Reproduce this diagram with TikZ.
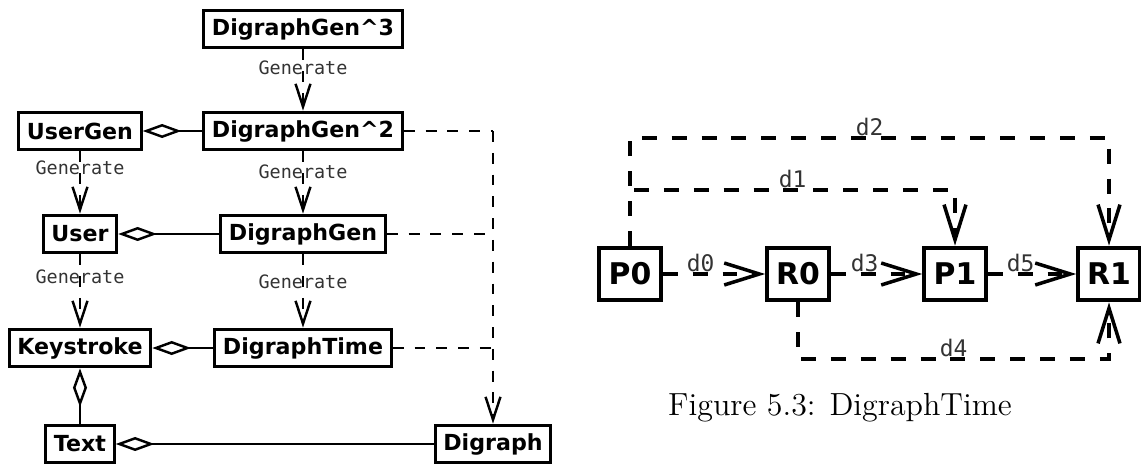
\documentclass[tikz,border=0pt]{standalone}
\usepackage{fontspec}
\setsansfont{DejaVu Sans}
\setmonofont{DejaVu Sans Mono}
\newfontfamily\capfont{lmroman12-regular.otf}
\usetikzlibrary{arrows.meta,positioning,calc}

\begin{document}
\begin{tikzpicture}[x=0.02cm,y=-0.02cm,
  cls/.style={draw,line width=1.7pt,font=\sffamily\bfseries\fontsize{12.6}{14}\selectfont,inner xsep=4.7pt,minimum height=21.5pt},
  st/.style={draw,line width=2.3pt,font=\sffamily\bfseries\fontsize{17}{19}\selectfont,minimum width=35pt,minimum height=30pt,inner sep=2pt},
  gen/.style={dash pattern=on 6.2pt off 6.2pt,line width=1.4pt,-{Straight Barb[length=13pt,width=8.5pt]}},
  agg/.style={line width=1.4pt,{Diamond[open,length=22pt,width=8pt]}-},
  dep/.style={dash pattern=on 6.2pt off 6.2pt,line width=1.4pt},
  dd/.style={dash pattern=on 8.5pt off 8.5pt,line width=2pt,-{Straight Barb[length=20pt,width=12.5pt]}},
  glab/.style={font=\ttfamily\fontsize{10.5}{12}\selectfont,text=black!80,inner sep=0pt},
  dlab/.style={font=\ttfamily\fontsize{13}{15}\selectfont,text=black!80,above=0.5pt,inner sep=0pt}]
\useasboundingbox (0,0) rectangle (1141,466);
% class diagram
\node[cls] (G3) at (303,29) {DigraphGen\textasciicircum 3};
\node[cls] (G2) at (303,131) {DigraphGen\textasciicircum 2};
\node[cls] (UserGen) at (80,131) {UserGen};
\node[cls] (User) at (80,234) {User};
\node[cls] (DG) at (303,234) {DigraphGen};
\node[cls] (Key) at (80,348) {Keystroke};
\node[cls] (DT) at (303,348) {DigraphTime};
\node[cls] (Text) at (80,444) {Text};
\node[cls] (Digraph) at (493,444) {Digraph};
\draw[gen] (G3) -- node[glab,pos=0.3] {Generate} (G2);
\draw[gen] (G2) -- node[glab,pos=0.33] {Generate} (DG);
\draw[gen] (DG) -- node[glab,pos=0.37] {Generate} (DT);
\draw[gen] (UserGen) -- node[glab,pos=0.27] {Generate} (User);
\draw[gen] (User) -- node[glab,pos=0.3] {Generate} (Key);
\draw[agg] (UserGen) -- (G2);
\draw[agg] (User) -- (DG);
\draw[agg] (Key) -- (DT);
\draw[agg] (Key) -- (Text);
\draw[agg] (Text) -- (Digraph);
\draw[dep] (G2.east) -- (G2.east -| Digraph.north);
\draw[dep] (DG.east) -- (DG.east -| Digraph.north);
\draw[dep] (DT.east) -- (DT.east -| Digraph.north);
\draw[gen] (G2.east -| Digraph.north) -- (Digraph.north);
% digraph timing
\node[st] (P0) at (630,274) {P0};
\node[st] (R0) at (798,274) {R0};
\node[st] (P1) at (955,274) {P1};
\node[st] (R1) at (1109,274) {R1};
\coordinate (top2) at (0,138);
\coordinate (top1) at (0,190);
\coordinate (low4) at (0,359);
\draw[dd] (P0) -- node[dlab,pos=0.37] {d0} (R0);
\draw[dd] (R0) -- node[dlab,pos=0.37] {d3} (P1);
\draw[dd] (P1) -- node[dlab,pos=0.37] {d5} (R1);
\draw[dd] (P0.north) -- (P0.north |- top2) -- node[dlab] {d2} (R1.north |- top2) -- (R1.north);
\draw[dd] (P0.north) -- (P0.north |- top1) -- node[dlab] {d1} (P1.north |- top1) -- (P1.north);
\draw[dd] (R0.south) -- (R0.south |- low4) -- node[dlab] {d4} (R1.south |- low4) -- (R1.south);
\node[font=\capfont\fontsize{18.2}{21}\selectfont] (cap) at (840,408) {Figure 5.3: DigraphTime};
\end{tikzpicture}
\end{document}
